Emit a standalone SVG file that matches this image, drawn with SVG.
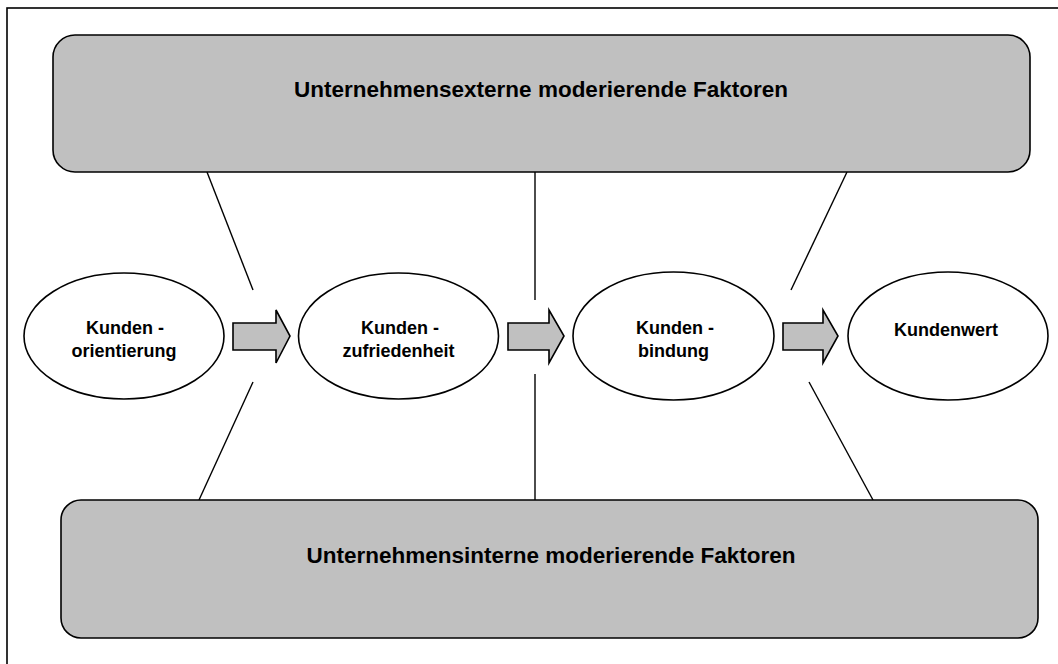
<svg xmlns="http://www.w3.org/2000/svg" width="1058" height="664" viewBox="0 0 1058 664">
<style>
.frame{fill:none;stroke:#000;stroke-width:1.6}
.box{fill:#c0c0c0;stroke:#000;stroke-width:1.6}
.ell{fill:#fff;stroke:#000;stroke-width:1.6}
.arr{fill:#c0c0c0;stroke:#000;stroke-width:1.6;stroke-linejoin:miter}
.ln{stroke:#000;stroke-width:1.4;fill:none}
.t{font-family:"Liberation Sans",Arial,sans-serif;font-weight:bold;fill:#000;text-anchor:middle}
.big{font-size:22.5px}
.sm{font-size:18px}
</style>
<rect class="frame" x="7" y="8" width="1060" height="670"/>
<g id="connectors">
<line class="ln" x1="207" y1="172" x2="253" y2="290"/>
<line class="ln" x1="253" y1="382" x2="199" y2="500"/>
<line class="ln" x1="535" y1="172" x2="535" y2="300"/>
<line class="ln" x1="535" y1="374" x2="535" y2="500"/>
<line class="ln" x1="847" y1="172" x2="791" y2="290"/>
<line class="ln" x1="809" y1="382" x2="873" y2="500"/>
</g>
<g id="extern">
<rect class="box" x="53" y="35" width="977" height="137" rx="22" ry="22"/>
<text class="t big" x="541" y="97">Unternehmensexterne moderierende Faktoren</text>
</g>
<g id="intern">
<rect class="box" x="61" y="500" width="977" height="138" rx="20" ry="20"/>
<text class="t big" x="551" y="563">Unternehmensinterne moderierende Faktoren</text>
</g>
<g id="orientierung">
<ellipse class="ell" cx="124" cy="336" rx="100" ry="63"/>
<text class="t sm" x="125" y="334">Kunden -</text>
<text class="t sm" x="124" y="357">orientierung</text>
</g>
<g id="zufriedenheit">
<ellipse class="ell" cx="398.5" cy="336" rx="100" ry="63"/>
<text class="t sm" x="400" y="334">Kunden -</text>
<text class="t sm" x="398.5" y="357">zufriedenheit</text>
</g>
<g id="bindung">
<ellipse class="ell" cx="673.5" cy="336" rx="100.5" ry="64"/>
<text class="t sm" x="675" y="334">Kunden -</text>
<text class="t sm" x="673.5" y="357">bindung</text>
</g>
<g id="kundenwert">
<ellipse class="ell" cx="948" cy="336" rx="100" ry="64"/>
<text class="t sm" x="946" y="336">Kundenwert</text>
</g>
<g id="arrows">
<path class="arr" d="M233,323 H276 V310 L290,336 L276,363 V350 H233 Z"/>
<path class="arr" d="M508,323 H549 V310 L564,336 L549,363 V350 H508 Z"/>
<path class="arr" d="M783,323 H823 V310 L838,336 L823,363 V350 H783 Z"/>
</g>
</svg>
